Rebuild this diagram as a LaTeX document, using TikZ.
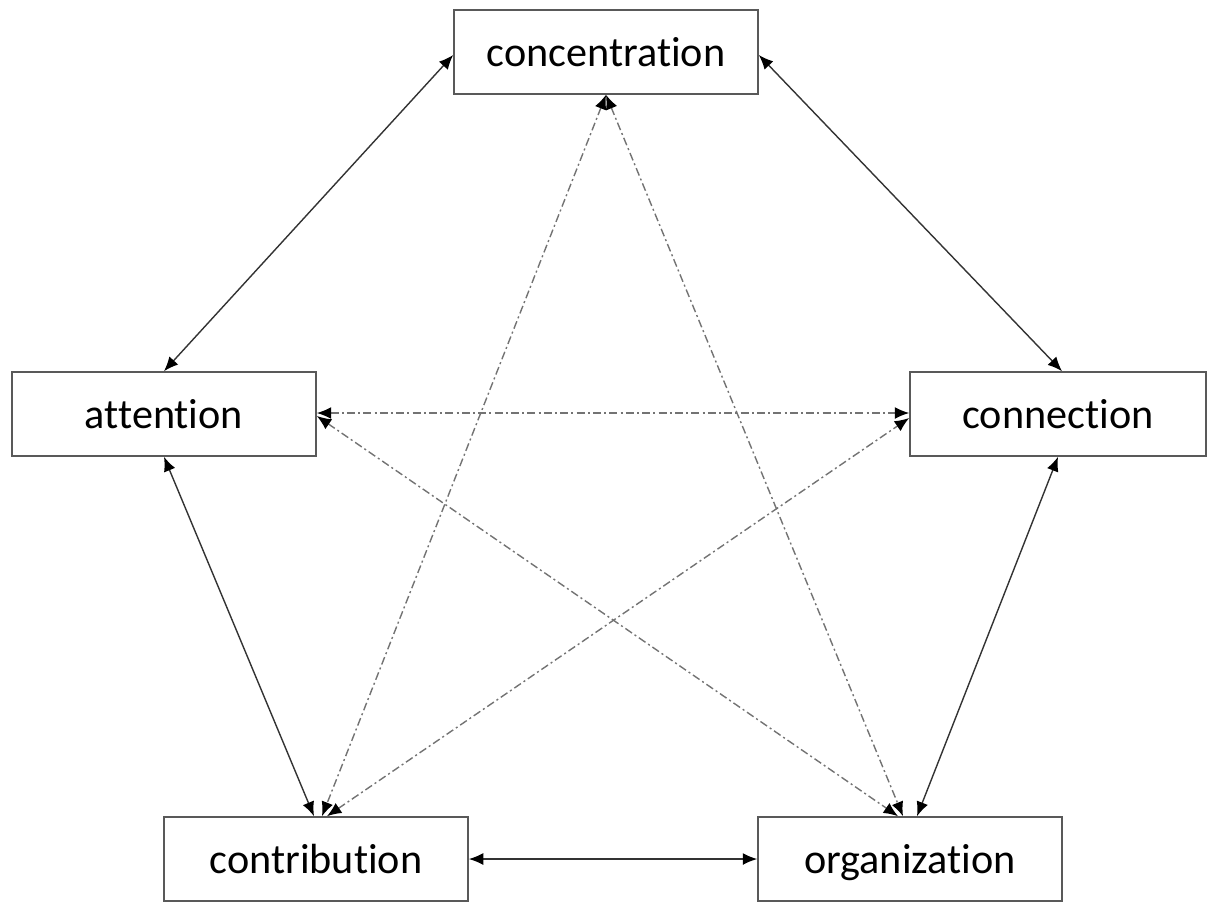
\documentclass[tikz,border=0pt]{standalone}
\usepackage{fontspec}
\setmainfont{Carlito}[Ligatures=NoCommon]
\usetikzlibrary{arrows.meta,calc}

\begin{document}
\begin{tikzpicture}[x=0.025cm, y=-0.025cm,
    box/.style={draw=black!65, fill=white, line width=0.04cm, minimum width=7.6cm, minimum height=2.1cm, inner sep=0pt, text height=25pt, text depth=4pt, font=\fontsize{30}{34}\selectfont},
    link/.style={black!80, line width=0.035cm, {Latex[length=0.36cm,width=0.3cm,color=black]}-{Latex[length=0.36cm,width=0.3cm,color=black]}},
    dlink/.style={link, black!55, dash pattern=on 0.2cm off 0.08cm on 0.05cm off 0.08cm}]
    \useasboundingbox (0,0) rectangle (1208,902);
    % Kästen
    \node[box] (conc) at (606,52) {concentration};
    \node[box] (att) at (164,414) {attention};
    \node[box, minimum width=7.4cm] (conn) at (1058,414) {connection};
    \node[box] (contr) at (316,859) {contribution};
    \node[box] (org) at (910,859) {organization};
    % durchgezogene Pfeile
    \draw[link] ($(conc.west)+(0,3)$) -- (att.north);
    \draw[link] ($(conc.east)+(0,3)$) -- ($(conn.north)+(4,0)$);
    \draw[link] (att.south) -- ($(contr.north)+(-2,0)$);
    \draw[link] (conn.south) -- ($(org.north)+(7,0)$);
    \draw[link] (contr.east) -- (org.west);
    % strichpunktierte Pfeile
    \draw[dlink] (conc.south) -- ($(contr.north)+(6,0)$);
    \draw[dlink] (conc.south) -- ($(org.north)+(-7,0)$);
    \draw[dlink] ($(att.east)+(0,-1)$) -- ($(conn.west)+(0,-1)$);
    \draw[dlink] ($(att.east)+(0,2)$) -- ($(org.north)+(-12,0)$);
    \draw[dlink] ($(contr.north)+(11,0)$) -- ($(conn.west)+(0,4)$);
\end{tikzpicture}
\end{document}
